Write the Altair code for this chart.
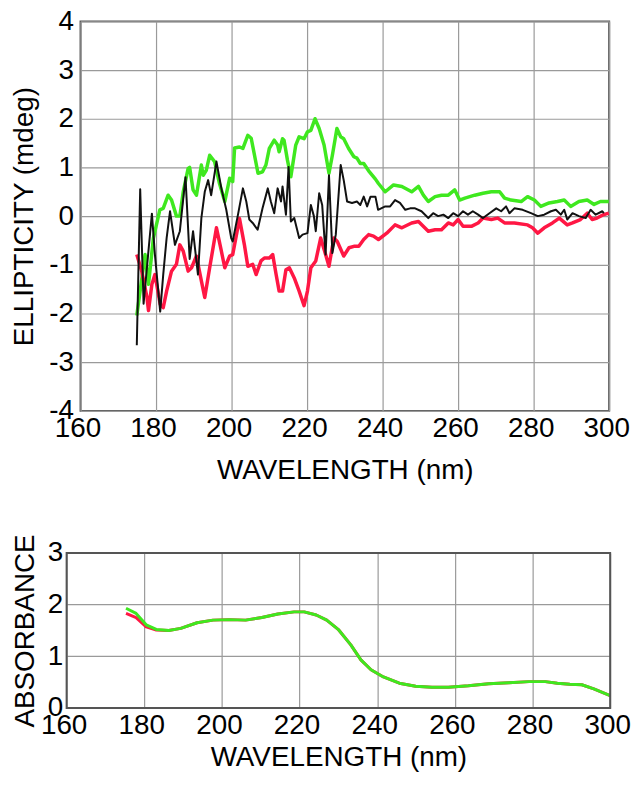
import altair as alt
import pandas as pd

# ---------------- CD spectra (ellipticity, mdeg) ----------------
green_nm = [174.9, 177.1, 178.0, 179.3, 181.0, 181.9, 183.2, 184.1, 185.4, 186.3, 187.2, 188.5, 188.9,
            189.8, 190.7, 192.0, 192.5, 193.3, 194.2, 195.5, 196.8, 198.2, 199.5, 200.3, 200.8, 202.1,
            203.0, 204.3, 205.2, 207.0, 208.2, 209.1, 210.0, 211.3, 212.2, 212.6, 213.5, 213.9, 214.8,
            215.7, 217.0, 217.9, 219.2, 220.1, 221.0, 222.1, 223.2, 224.5, 225.8, 226.7, 227.9, 228.9,
            229.7, 231.0, 232.4, 233.2, 234.1, 235.0, 236.3, 238.1, 238.9, 240.7, 242.9, 245.1, 247.7,
            249.5, 250.8, 252.1, 253.9, 255.6, 257.4, 259.1, 260.4, 261.8, 264.4, 266.6, 268.8, 271.0,
            272.3, 274.0, 276.7, 278.4, 280.2, 281.9, 284.1, 286.3, 288.1, 289.8, 292.0, 294.2, 296.0,
            297.7, 299.9]
green_cd = [-2.04, -0.79, -1.40, -0.45, 0.13, 0.16, 0.43, 0.33, 0.00, 0.00, 0.50, 0.98, 1.00,
            0.54, 0.43, 1.05, 0.84, 0.94, 1.25, 1.12, 0.67, 0.30, 0.78, 0.71, 1.40, 1.42,
            1.39, 1.66, 1.60, 0.88, 0.91, 1.05, 1.39, 1.56, 1.46, 1.32, 1.59, 1.56, 1.15,
            0.81, 1.46, 1.63, 1.59, 1.73, 1.76, 2.00, 1.80, 1.46, 0.88, 1.25, 1.80, 1.63,
            1.59, 1.39, 1.22, 1.19, 1.08, 1.08, 0.93, 0.76, 0.67, 0.50, 0.64, 0.61, 0.50,
            0.61, 0.43, 0.30, 0.40, 0.43, 0.43, 0.54, 0.33, 0.37, 0.43, 0.47, 0.50, 0.50,
            0.37, 0.33, 0.30, 0.40, 0.33, 0.20, 0.27, 0.30, 0.33, 0.20, 0.30, 0.33, 0.24,
            0.30, 0.30]

red_nm = [174.9, 176.2, 177.6, 178.0, 178.9, 179.7, 181.1, 181.9, 182.8, 184.1, 185.4, 186.3, 187.2,
          188.5, 189.4, 190.7, 192.0, 192.9, 194.2, 196.0, 197.3, 198.2, 199.5, 200.3, 202.1, 203.4,
          204.3, 205.6, 206.5, 207.8, 208.7, 210.0, 210.9, 211.8, 212.6, 213.5, 214.4, 215.3, 216.6,
          217.9, 219.2, 220.1, 221.0, 222.3, 223.6, 224.9, 225.8, 227.1, 228.0, 229.7, 231.1, 232.4,
          233.7, 235.0, 236.3, 237.6, 238.9, 241.1, 243.3, 245.1, 247.7, 249.5, 252.1, 253.9, 255.6,
          257.4, 258.7, 260.0, 261.3, 263.5, 265.3, 266.6, 268.8, 270.5, 272.3, 274.9, 278.4, 279.7,
          281.1, 282.8, 285.0, 286.8, 288.9, 290.3, 292.4, 294.2, 295.5, 296.8, 298.2, 299.9]
red_cd = [-0.79, -1.13, -1.67, -1.94, -1.40, -1.20, -1.81, -1.88, -1.54, -1.13, -0.99, -0.59, -0.72,
          -1.13, -1.06, -0.82, -1.33, -1.67, -1.06, -0.24, -0.72, -1.06, -0.82, -0.79, -0.05, -0.59,
          -1.03, -0.99, -1.20, -0.92, -0.86, -0.86, -0.79, -1.20, -1.54, -1.54, -1.10, -1.06, -1.27,
          -1.54, -1.84, -1.54, -1.06, -0.92, -0.45, -0.79, -1.03, -0.45, -0.52, -0.82, -0.65, -0.62,
          -0.62, -0.48, -0.38, -0.41, -0.48, -0.35, -0.18, -0.24, -0.14, -0.11, -0.31, -0.28, -0.28,
          -0.14, -0.18, -0.07, -0.21, -0.21, -0.14, -0.04, -0.07, -0.04, -0.14, -0.14, -0.18, -0.24,
          -0.35, -0.24, -0.14, -0.04, -0.18, -0.14, -0.07, 0.06, -0.07, -0.04, 0.02, 0.06]

black_nm = [174.9, 175.8, 176.7, 178.9, 179.7, 181.1, 181.9, 182.8, 183.7, 185.0, 186.3, 187.8, 188.9,
            189.8, 191.1, 192.0, 192.9, 193.8, 194.6, 196.0, 197.3, 198.6, 199.9, 200.3, 201.7, 203.0,
            203.9, 204.7, 205.6, 206.9, 208.2, 209.6, 210.4, 211.3, 212.2, 213.1, 213.5, 214.4, 215.1,
            215.7, 216.6, 217.9, 218.8, 220.1, 221.0, 221.8, 222.3, 223.2, 224.0, 224.9, 225.8, 226.7,
            227.6, 228.9, 229.7, 230.6, 231.9, 233.2, 234.1, 235.0, 235.9, 236.8, 238.1, 238.8, 240.7,
            242.0, 243.3, 244.6, 246.0, 247.3, 248.6, 250.3, 252.1, 253.4, 254.7, 256.1, 257.4, 258.7,
            260.0, 261.3, 262.6, 263.9, 265.3, 266.6, 268.3, 270.1, 271.4, 272.7, 273.6, 274.9, 277.1,
            279.3, 281.1, 282.8, 284.6, 285.9, 287.2, 288.1, 288.9, 290.3, 292.0, 293.8, 295.1, 296.4,
            298.2, 298.6]
black_cd = [-2.65, 0.55, -1.80, 0.05, -0.79, -1.96, -1.20, -0.45, 0.10, -0.59, -0.31, 0.80, -0.88,
            -0.31, -1.20, -0.04, 0.50, 0.74, 0.43, 1.12, 0.57, 0.13, -0.45, -0.52, 0.03, 0.57,
            0.30, -0.07, -0.14, -0.28, 0.16, 0.57, 0.30, 0.06, 0.57, 0.30, 0.61, 0.03, 1.01,
            -0.11, -0.04, -0.45, -0.38, -0.35, 0.23, 0.00, -0.31, 0.47, 0.23, -0.79, 0.84, -0.76,
            -0.38, 1.05, 0.74, 0.30, 0.27, 0.30, 0.23, 0.40, 0.20, 0.40, 0.40, 0.13, 0.20,
            0.20, 0.33, 0.27, 0.13, 0.16, 0.16, 0.10, -0.04, 0.06, 0.00, 0.03, -0.04, 0.06,
            0.00, 0.10, 0.03, 0.10, 0.03, -0.04, 0.06, 0.16, 0.10, 0.20, 0.06, 0.16, 0.13,
            0.06, 0.00, 0.03, 0.10, 0.13, 0.03, 0.13, -0.07, 0.06, 0.00, -0.04, 0.13, 0.03,
            0.10, 0.06]

# ---------------- Absorbance ----------------
abs_green_nm = [175.3, 177.9, 180.5, 183.1, 186.3, 189.4, 193.6, 197.7, 201.9, 206.1, 210.3, 214.4,
                218.6, 221.2, 224.3, 227.0, 230.1, 233.2, 235.8, 238.4, 241.6, 245.7, 249.9, 254.1,
                258.3, 263.5, 268.7, 273.9, 279.1, 283.3, 286.4, 289.6, 292.7, 295.8, 300.0]
abs_green = [1.93, 1.83, 1.61, 1.52, 1.50, 1.54, 1.65, 1.70, 1.71, 1.70, 1.75, 1.82,
             1.86, 1.86, 1.80, 1.70, 1.51, 1.22, 0.93, 0.74, 0.60, 0.48, 0.42, 0.40,
             0.40, 0.43, 0.47, 0.49, 0.51, 0.51, 0.48, 0.46, 0.45, 0.37, 0.24]
abs_red_nm = [175.3, 177.9, 180.5, 183.1, 186.3, 189.4, 193.6, 197.7, 201.9, 206.1, 210.3, 214.4,
              218.6, 221.2, 224.3, 227.0, 230.1, 233.2, 235.8, 238.4, 241.6, 245.7, 249.9, 254.1,
              258.3, 263.5, 268.7, 273.9, 279.1, 283.3, 286.4, 289.6, 292.7, 295.8, 300.0]
abs_red = [1.83, 1.75, 1.57, 1.51, 1.50, 1.54, 1.65, 1.70, 1.71, 1.70, 1.75, 1.82,
           1.86, 1.86, 1.80, 1.70, 1.51, 1.22, 0.93, 0.74, 0.60, 0.48, 0.42, 0.40,
           0.40, 0.43, 0.47, 0.49, 0.51, 0.51, 0.48, 0.46, 0.45, 0.37, 0.24]

x_ticks = [160, 180, 200, 220, 240, 260, 280, 300]
cd_ticks = [-4, -3, -2, -1, 0, 1, 2, 3, 4]
abs_ticks = [0, 1, 2, 3]
abs_inner_grid = [1, 2]

GREEN = "#3FE81F"
RED = "#FF1744"
BLACK = "#111111"
FRAME = "#555555"
GRID = "#9a9a9a"
FONT = "Liberation Sans"

common_axis = dict(
    labelFont=FONT, titleFont=FONT, labelFontSize=28, titleFontSize=28,
    titleFontWeight="normal", labelColor="#000", titleColor="#000",
    gridColor=GRID, gridWidth=1.2, ticks=False, domain=False,
    labelOverlap=False, labelFlush=False, labelExpr="'' + datum.value",
)


def line(xs, ys, color, width, xenc, yenc):
    df = pd.DataFrame({"x": xs, "y": ys})
    return alt.Chart(df).mark_line(color=color, strokeWidth=width, strokeJoin="round").encode(
        x=xenc, y=yenc)


# ---------------- top panel ----------------
TW, TH = 532, 392
x_top = alt.X("x:Q", scale=alt.Scale(domain=[160, 300], nice=False, zero=False),
              axis=alt.Axis(title="WAVELENGTH (nm)", values=x_ticks, grid=True, labelOffset=-3,
                            labelPadding=4, titlePadding=14, **common_axis))
y_top = alt.Y("y:Q", scale=alt.Scale(domain=[-4, 4], nice=False),
              axis=alt.Axis(title="ELLIPTICITY (mdeg)", values=cd_ticks, grid=True,
                            labelPadding=7, titlePadding=10, **common_axis))

top = alt.layer(
    line(green_nm, green_cd, GREEN, 3.5, x_top, y_top),
    line(red_nm, red_cd, RED, 3.5, x_top, y_top),
    line(black_nm, black_cd, BLACK, 2, x_top, y_top),
).properties(width=TW, height=TH)

# ---------------- bottom panel ----------------
# the bottom frame begins 14px left of the top frame, so its x range starts at -14
BW, BH, BSHIFT = 533, 156, 14
x_bot = alt.X("x:Q", scale=alt.Scale(domain=[160, 300], nice=False, zero=False, range=[-BSHIFT, BW]),
              axis=alt.Axis(title="WAVELENGTH (nm)", values=x_ticks, grid=True, labelOffset=-3,
                            labelPadding=4, titlePadding=4, **common_axis))
y_bot = alt.Y("y:Q", scale=alt.Scale(domain=[0, 3], nice=False),
              axis=alt.Axis(title="ABSORBANCE", values=abs_ticks, grid=False, offset=BSHIFT,
                            labelPadding=4, titlePadding=8, **common_axis))

hgrid = alt.Chart(pd.DataFrame({"y": abs_inner_grid})).mark_rule(color=GRID, strokeWidth=1.2).encode(
    y=y_bot, x=alt.value(-BSHIFT), x2=alt.value(BW),
)
frame_bot = alt.Chart(pd.DataFrame({"k": [0]})).mark_rect(
    fill="white", fillOpacity=0, stroke=FRAME, strokeWidth=2
).encode(x=alt.value(-BSHIFT), x2=alt.value(BW), y=alt.value(0), y2=alt.value(BH))

bottom = alt.layer(
    hgrid,
    line(abs_red_nm, abs_red, RED, 3, x_bot, y_bot),
    line(abs_green_nm, abs_green, GREEN, 3, x_bot, y_bot),
    frame_bot,
).properties(width=BW, height=BH, view=alt.ViewConfig(stroke="transparent"))

chart = alt.vconcat(top, bottom, spacing=47).properties(
    padding={"left": 2, "top": -4, "right": 0, "bottom": 0},
    background="white",
).configure_view(stroke=FRAME, strokeWidth=2)

chart.save("out.html", embed_options={"renderer": "svg", "actions": False})
